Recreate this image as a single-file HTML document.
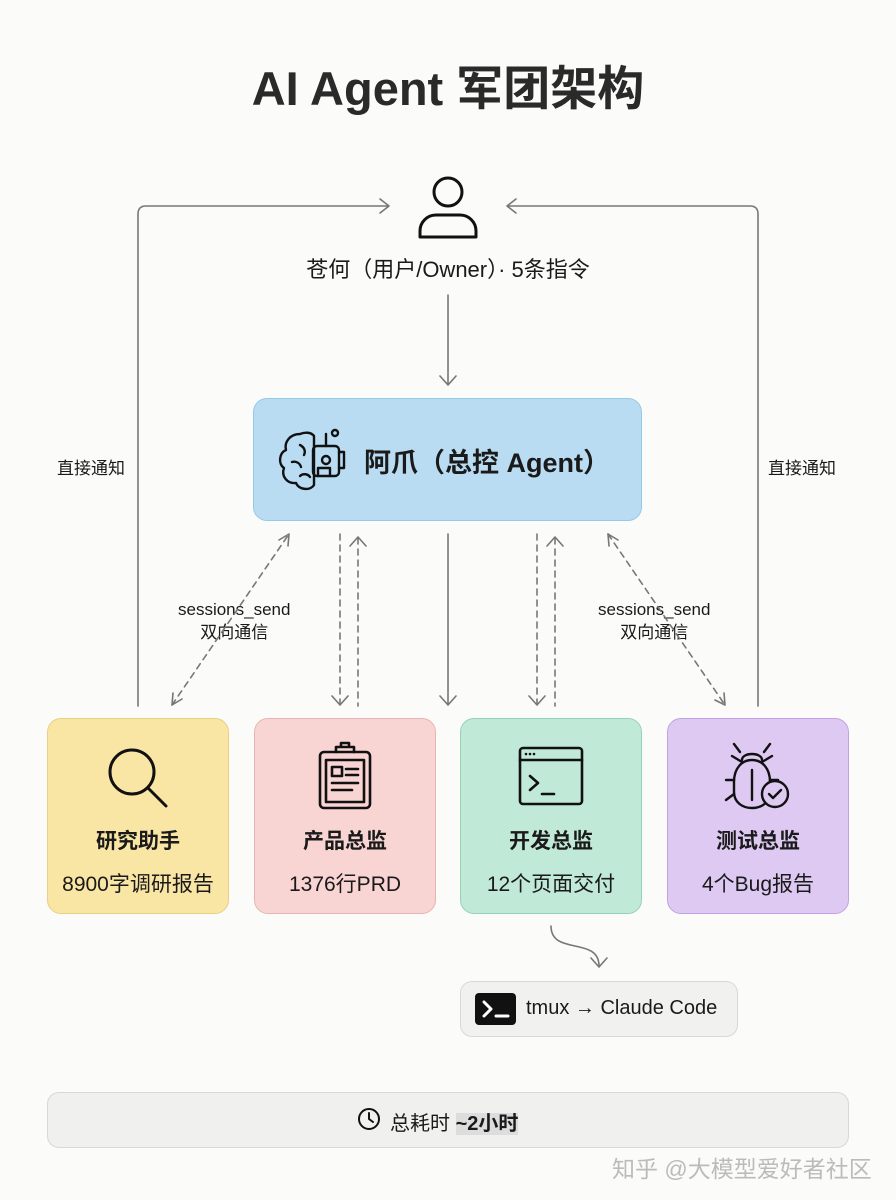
<!DOCTYPE html>
<html><head><meta charset="utf-8"><style>
*{margin:0;padding:0;box-sizing:border-box}
body{width:896px;height:1200px;background:#fbfbf9;position:relative;overflow:hidden;font-family:"Liberation Sans","Noto Sans CJK SC",sans-serif;color:#1a1a1a}
.a{position:absolute}
.box{position:absolute;border-radius:14px;border:1.5px solid}
.t{position:absolute;text-align:center;white-space:nowrap}
.card .n{position:absolute;left:0;right:0;top:106px;text-align:center;font-size:21px;font-weight:bold}
.card .s{position:absolute;left:0;right:0;top:149px;text-align:center;font-size:21px}
svg{position:absolute;left:0;top:0}
</style></head><body>
<div class="t" style="left:0;width:896px;top:50px;font-size:47px;font-weight:bold;color:#2a2a2a">AI Agent 军团架构</div>

<div class="box" style="left:253px;top:398px;width:389px;height:123px;background:#b9dcf3;border-color:#96c8e8"></div>
<div class="t" style="left:364px;top:441px;font-size:27px;font-weight:bold">阿爪（总控 Agent）</div>

<div class="box card" style="left:47px;top:718px;width:182px;height:196px;background:#f9e6a4;border-color:#e8d084"><div class="n">研究助手</div><div class="s">8900字调研报告</div></div>
<div class="box card" style="left:254px;top:718px;width:182px;height:196px;background:#f8d4d3;border-color:#e8b4b3"><div class="n">产品总监</div><div class="s">1376行PRD</div></div>
<div class="box card" style="left:460px;top:718px;width:182px;height:196px;background:#c0e9d7;border-color:#94d2b6"><div class="n">开发总监</div><div class="s">12个页面交付</div></div>
<div class="box card" style="left:667px;top:718px;width:182px;height:196px;background:#ddc9f2;border-color:#c2a2e2"><div class="n">测试总监</div><div class="s">4个Bug报告</div></div>

<div class="box" style="left:460px;top:981px;width:278px;height:56px;background:#f1f1ef;border-color:#d8d8d6;border-radius:12px"></div>
<div class="a" style="left:475px;top:993px;width:41px;height:32px;background:#111;border-radius:4px"></div>
<div class="t" style="left:526px;top:997px;font-size:20px">tmux → Claude Code</div>

<div class="box" style="left:47px;top:1092px;width:802px;height:56px;background:#f0f0ee;border-color:#d8d8d6;border-radius:12px"></div>
<div class="t" style="left:390px;top:1107px;font-size:20px">总耗时 <b style="background:#ddd">~2小时</b></div>
<div class="t" style="left:612px;top:1150px;font-size:23px;color:#bbb">知乎 @大模型爱好者社区</div>

<div class="t" style="left:0;width:896px;top:252px;font-size:22px">苍何（用户/Owner）· 5条指令</div>
<div class="t" style="left:57px;top:454px;font-size:17px">直接通知</div>
<div class="t" style="left:768px;top:454px;font-size:17px">直接通知</div>
<div class="t" style="left:178px;top:598px;font-size:17px;line-height:23px">sessions_send<br>双向通信</div>
<div class="t" style="left:598px;top:598px;font-size:17px;line-height:23px">sessions_send<br>双向通信</div>

<svg width="896" height="1200" fill="none" stroke="#777" stroke-width="1.6" stroke-linecap="round" stroke-linejoin="round">
<g stroke="#111" stroke-width="3"><circle cx="448" cy="192" r="14"/><path d="M420 237v-6a16 16 0 0 1 16-16h24a16 16 0 0 1 16 16v6z"/></g>
<path d="M448 295v90M440 376l8 9 8-9"/>
<path d="M138 706V214q0-8 8-8h243M380 199l9 7-9 7"/>
<path d="M758 706V214q0-8-8-8H507M516 199l-9 7 9 7"/>
<g stroke-dasharray="6 5">
<path d="M172 705L289 534"/><path d="M608 534L725 705"/>
<path d="M340 534v170"/><path d="M358 538v168"/>
<path d="M537 534v170"/><path d="M555 538v168"/>
</g>
<path d="M172 705l1-12M172 705l10-6M289 534l-10 6M289 534l-1 12"/>
<path d="M608 534l1 12M608 534l10 6M725 705l-1-12M725 705l-10-5"/>
<path d="M332 696l8 9 8-9M350 546l8-9 8 9M529 696l8 9 8-9M547 546l8-9 8 9"/>
<path d="M448 534v170M440 696l8 9 8-9"/>
<path d="M551 926c0 30 48 10 48 40M591 958l8 9 8-9"/>
<g stroke="#111" stroke-width="2.4">
<path d="M300 434c-10 0-16 8-14 16-7 3-8 14-2 18-3 8 3 16 12 15 3 7 14 8 18 2v-49c-3-4-9-4-14-2z"/>
<path d="M300 445c4 2 6 6 4 10M292 462c4-1 8 1 9 5M300 476c3-3 8-2 10 1"/>
<rect x="313" y="446" width="26" height="30" rx="4"/><circle cx="326" cy="460" r="4"/><path d="M326 446v-12"/><circle cx="335" cy="433" r="3"/>
<path d="M339 452h5v16h-5"/><path d="M318 476v-8h12v8"/>
</g>
<g stroke="#111" stroke-width="3"><circle cx="132" cy="772" r="22"/><path d="M148 788l18 18"/></g>
<g stroke="#111" stroke-width="2.6"><rect x="320" y="752" width="50" height="56" rx="4"/><rect x="326" y="760" width="38" height="42"/><path d="M336 752v-5h18v5M341 747v-4h8v4"/><rect x="332" y="767" width="10" height="9"/><path d="M346 769h12M346 775h12M332 783h26M332 790h20"/></g>
<g stroke="#111" stroke-width="2.6"><rect x="520" y="748" width="62" height="56" rx="3"/><path d="M520 760h62M530 776l8 7-8 7M542 794h12"/></g>
<g fill="#111" stroke="none"><circle cx="526" cy="754" r="1.3"/><circle cx="530" cy="754" r="1.3"/><circle cx="534" cy="754" r="1.3"/></g>
<g stroke="#111" stroke-width="2.4"><path d="M734 782c0-14 8-22 18-22s18 8 18 22v10c0 10-8 16-18 16s-18-6-18-16z"/><path d="M752 770v30M742 760c0-8 20-8 20 0M740 752l-6-8M764 752l6-8M734 780h-8M734 794l-8 6M770 780h8M742 762l-10-6M762 762l10-6"/><circle cx="775" cy="794" r="13" fill="#ddc9f2"/><path d="M769 794l4 4 8-8"/></g>
<path d="M484 1002l7 7-7 7M496 1016h12" stroke="#fff" stroke-width="3"/>
<g stroke="#111" stroke-width="2"><circle cx="369" cy="1119" r="10"/><path d="M369 1113v6l4 3"/></g>
</svg>
</body></html>
